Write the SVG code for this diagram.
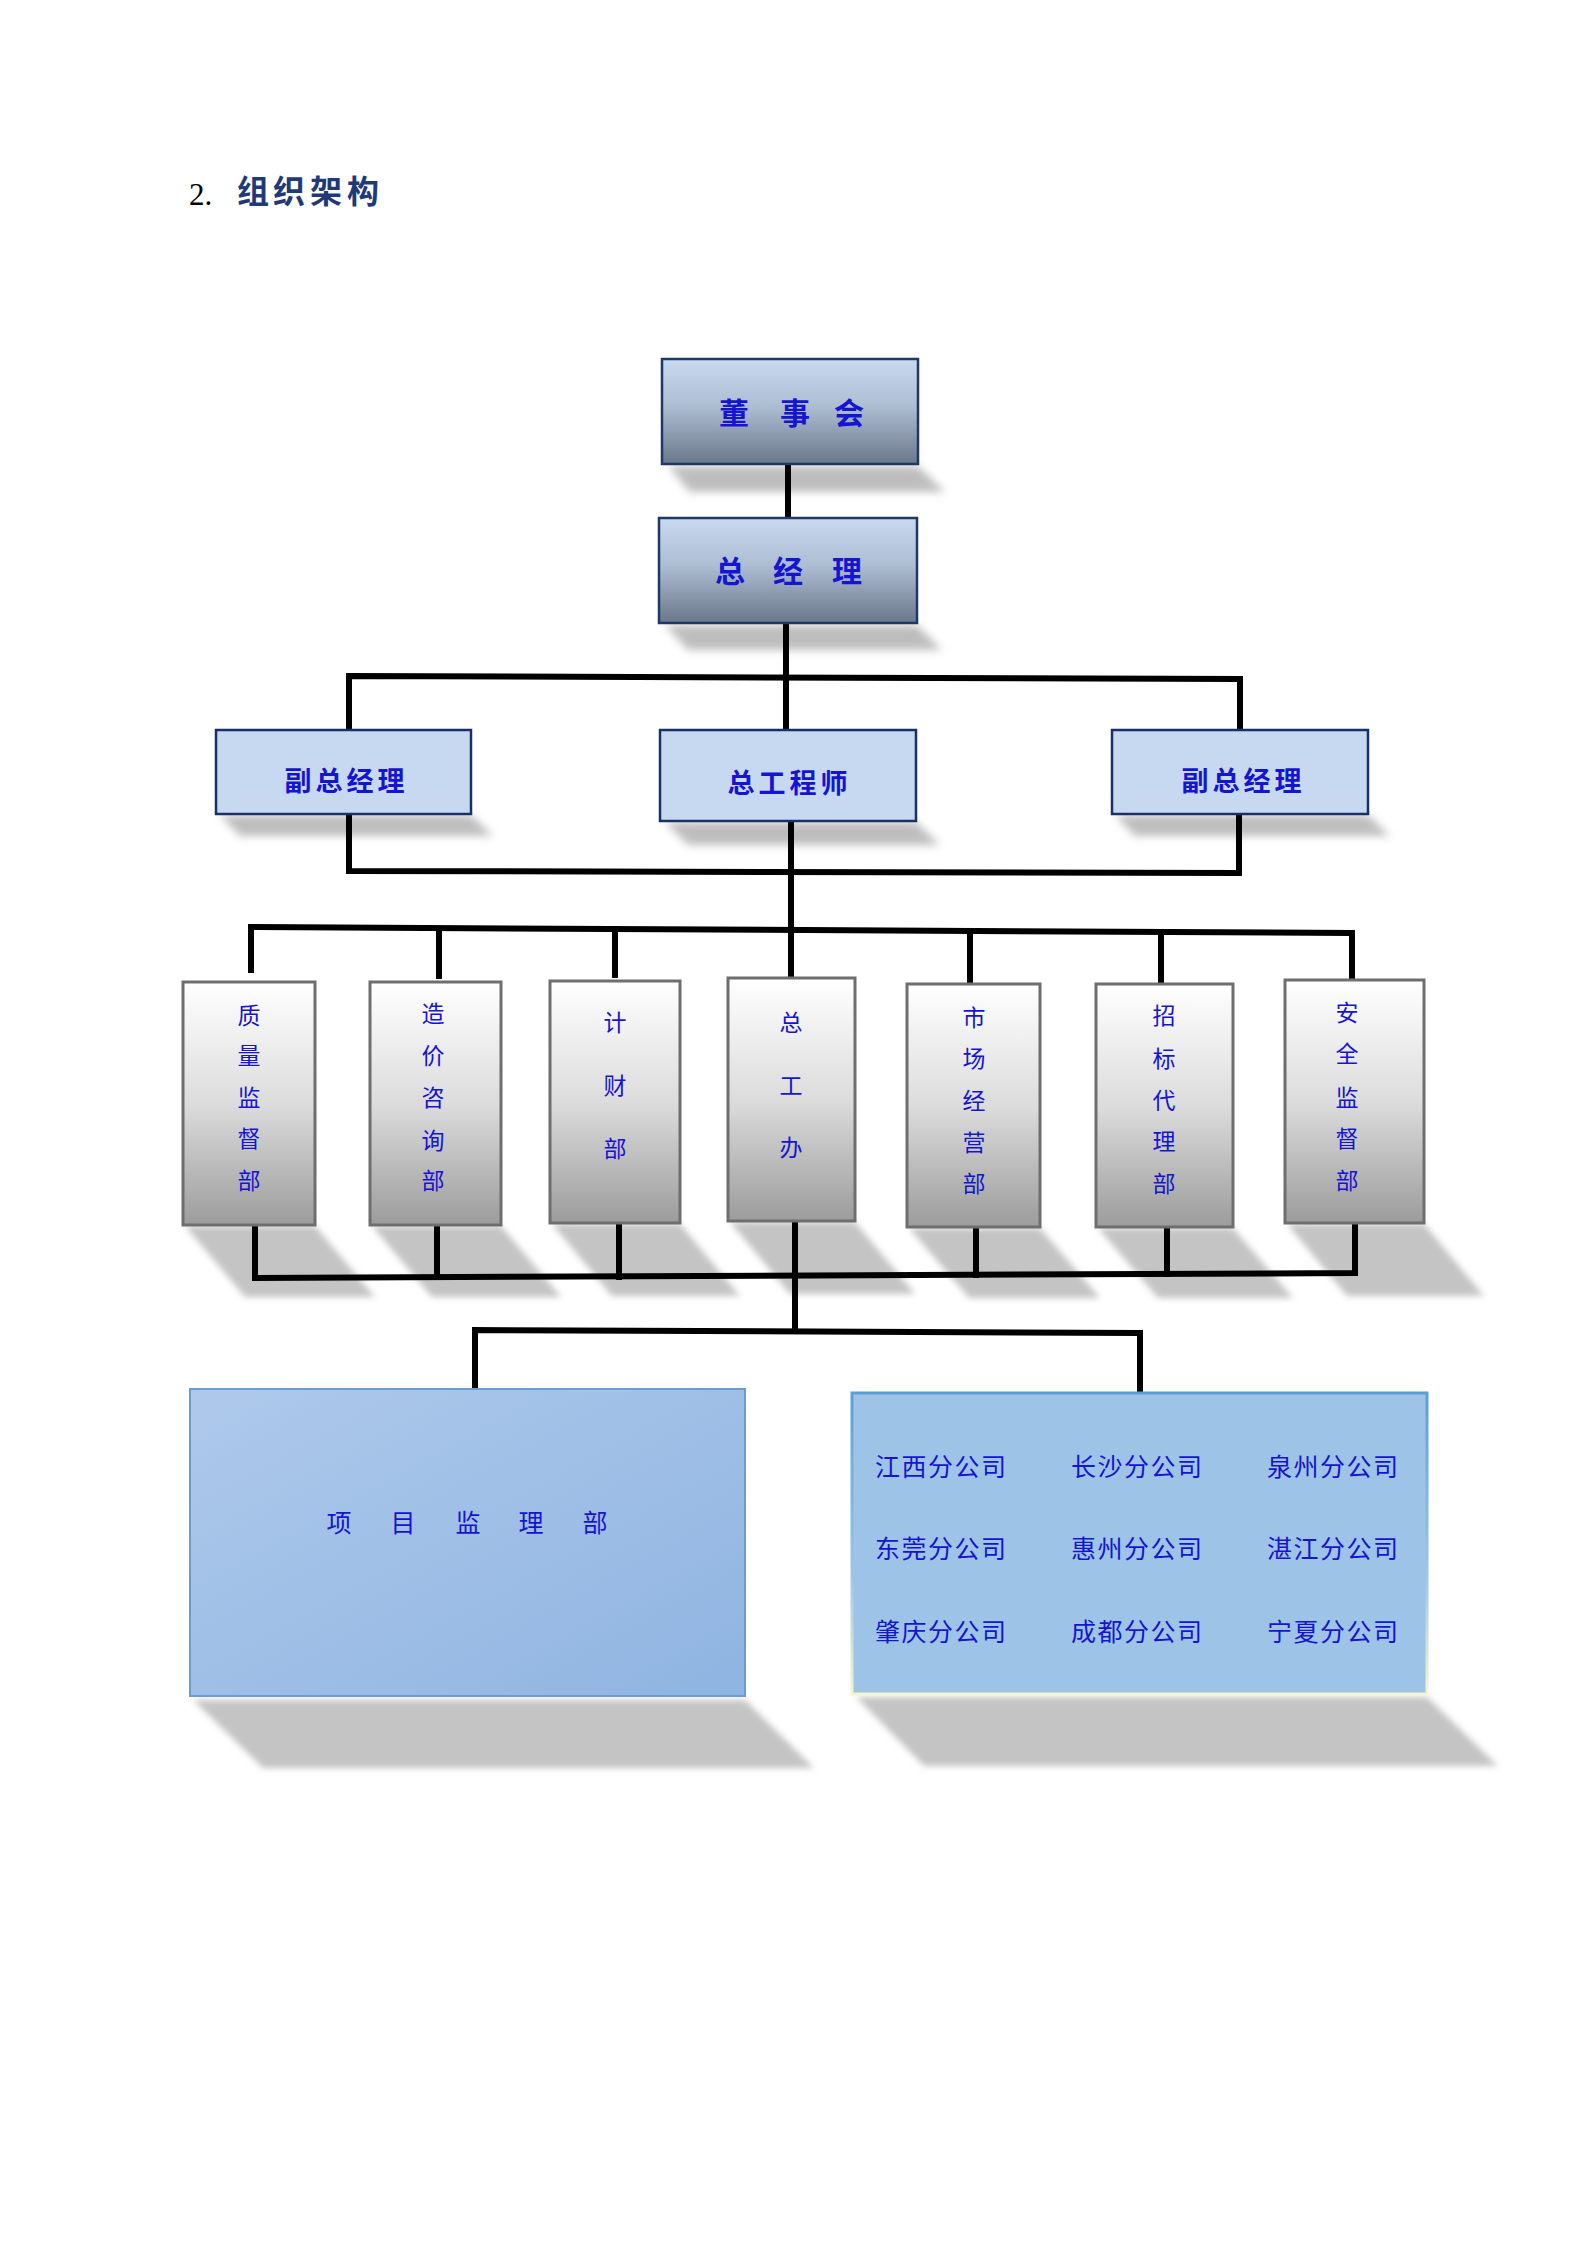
<svg xmlns="http://www.w3.org/2000/svg" width="1587" height="2245" viewBox="0 0 1587 2245">
<defs>
<linearGradient id="gTop" x1="0" y1="0" x2="0" y2="1">
<stop offset="0" stop-color="#c8daf1"/>
<stop offset="0.45" stop-color="#adbdd2"/>
<stop offset="1" stop-color="#6b778a"/>
</linearGradient>
<linearGradient id="gDept" x1="0" y1="0" x2="0" y2="1">
<stop offset="0" stop-color="#ffffff"/>
<stop offset="0.5" stop-color="#dcdcdc"/>
<stop offset="1" stop-color="#9c9c9c"/>
</linearGradient>
<linearGradient id="gProj" x1="0" y1="0" x2="1" y2="1">
<stop offset="0" stop-color="#aec9eb"/>
<stop offset="1" stop-color="#8fb4e1"/>
</linearGradient>
<linearGradient id="gBrStroke" x1="0" y1="0" x2="0" y2="1">
<stop offset="0" stop-color="#5b9fd6"/>
<stop offset="0.6" stop-color="#9cc6ea"/>
<stop offset="1" stop-color="#f3f5cf"/>
</linearGradient>
<filter id="blur" x="-20%" y="-50%" width="140%" height="200%">
<feGaussianBlur stdDeviation="4"/>
</filter>
<filter id="blur2" x="-20%" y="-50%" width="140%" height="200%">
<feGaussianBlur stdDeviation="3"/>
</filter>
</defs>
<style>
.cn{font-family:"Noto Sans CJK SC","Noto Sans CJK TC",sans-serif;fill:#1414d2;}
.top{font-size:30px;font-weight:bold;text-anchor:middle;}
.vp{font-size:27px;font-weight:bold;text-anchor:middle;}
.dept{font-size:23px;text-anchor:middle;}
.br{font-size:25px;letter-spacing:1.5px;}
.proj{font-size:25px;text-anchor:middle;}
.boxTop{fill:url(#gTop);stroke:#1f3864;stroke-width:2.5;}
.boxVp{fill:#c6d9f1;stroke:#17306a;stroke-width:2.5;}
.boxDept{fill:url(#gDept);stroke:#6e6e6e;stroke-width:3;}
.shadow{fill:#a8a8a8;opacity:0.75;filter:url(#blur);}
.dshadow{fill:#c4c4c4;filter:url(#blur2);}
.ln{fill:none;stroke:#000;stroke-width:6;stroke-linecap:square;stroke-linejoin:miter;}
</style>
<rect width="1587" height="2245" fill="#ffffff"/>

<!-- title -->
<g id="title">
<text x="189" y="205" font-family="Liberation Serif, serif" font-size="31" fill="#000">2.</text>
<text x="253 289 326 363" y="203" font-family="Noto Sans CJK SC, sans-serif" font-size="32" font-weight="bold" fill="#1f3a78" text-anchor="middle">组织架构</text>
</g>

<!-- shadows -->
<g id="shadows">
<polygon class="shadow" points="668,466 918,466 945,492 690,492"/>
<polygon class="shadow" points="665,625 917,625 942,650 688,650"/>
<polygon class="shadow" points="220,815 471,815 493,836 240,836"/>
<polygon class="shadow" points="665,822 916,822 940,845 688,845"/>
<polygon class="shadow" points="1115,815 1368,815 1390,836 1135,836"/>
<polygon class="dshadow" points="185,1226 315,1226 375,1297 245,1297"/>
<polygon class="dshadow" points="372,1226 501,1226 561,1297 432,1297"/>
<polygon class="dshadow" points="552,1224 680,1224 740,1296 612,1296"/>
<polygon class="dshadow" points="730,1222 855,1222 915,1294 790,1294"/>
<polygon class="dshadow" points="909,1228 1040,1228 1100,1298 969,1298"/>
<polygon class="dshadow" points="1098,1228 1233,1228 1293,1298 1158,1298"/>
<polygon class="dshadow" points="1287,1224 1424,1224 1484,1296 1347,1296"/>
<polygon class="dshadow" points="193,1700 745,1700 814,1768 263,1768"/>
<polygon class="dshadow" points="856,1697 1427,1697 1498,1766 924,1766"/>
</g>

<!-- connectors -->
<g id="connectors">
<line class="ln" x1="788" y1="466" x2="788" y2="516"/>
<line class="ln" x1="786" y1="625" x2="786" y2="728"/>
<polyline class="ln" points="349,728 349,676 1240,679 1240,728"/>
<polyline class="ln" points="349,815 349,871 1239,873 1239,815"/>
<line class="ln" x1="791" y1="823" x2="791" y2="975"/>
<polyline class="ln" points="251,970 251,927 1352,933 1352,978"/>
<line class="ln" x1="439" y1="929" x2="439" y2="976"/>
<line class="ln" x1="615" y1="930" x2="615" y2="975"/>
<line class="ln" x1="970" y1="932" x2="970" y2="980"/>
<line class="ln" x1="1161" y1="933" x2="1161" y2="980"/>
<polyline class="ln" points="255,1227 255,1278 1355,1273 1355,1225"/>
<line class="ln" x1="437" y1="1227" x2="437" y2="1277"/>
<line class="ln" x1="619" y1="1225" x2="619" y2="1277"/>
<line class="ln" x1="976" y1="1231" x2="976" y2="1275"/>
<line class="ln" x1="1167" y1="1229" x2="1167" y2="1274"/>
<line class="ln" x1="795" y1="1223" x2="795" y2="1329"/>
<polyline class="ln" points="475,1387 475,1330 1140,1333 1140,1392"/>
</g>

<!-- nodes -->
<g id="n-board">
<rect class="boxTop" x="662" y="359" width="256" height="105"/>
<text class="cn top" x="734 795 849" y="424">董事会</text>
</g>
<g id="n-gm">
<rect class="boxTop" x="659" y="518" width="258" height="105"/>
<text class="cn top" x="730 788 847" y="582">总经理</text>
</g>
<g id="n-vp-left">
<rect class="boxVp" x="216" y="730" width="255" height="84"/>
<text class="cn vp" x="298 329 360 391" y="791">副总经理</text>
</g>
<g id="n-ce">
<rect class="boxVp" x="660" y="730" width="256" height="91"/>
<text class="cn vp" x="741 772 803 834" y="793">总工程师</text>
</g>
<g id="n-vp-right">
<rect class="boxVp" x="1112" y="730" width="256" height="84"/>
<text class="cn vp" x="1195 1226 1257 1288" y="791">副总经理</text>
</g>

<g id="d-quality">
<rect class="boxDept" x="183" y="982" width="132" height="243"/>
<text class="cn dept" x="249" y="1024">质</text>
<text class="cn dept" x="249" y="1064">量</text>
<text class="cn dept" x="249" y="1106">监</text>
<text class="cn dept" x="249" y="1147">督</text>
<text class="cn dept" x="249" y="1189">部</text>
</g>
<g id="d-cost">
<rect class="boxDept" x="370" y="982" width="131" height="243"/>
<text class="cn dept" x="433" y="1022">造</text>
<text class="cn dept" x="433" y="1064">价</text>
<text class="cn dept" x="433" y="1106">咨</text>
<text class="cn dept" x="433" y="1149">询</text>
<text class="cn dept" x="433" y="1189">部</text>
</g>
<g id="d-finance">
<rect class="boxDept" x="550" y="981" width="130" height="242"/>
<text class="cn dept" x="615" y="1031">计</text>
<text class="cn dept" x="615" y="1094">财</text>
<text class="cn dept" x="615" y="1157">部</text>
</g>
<g id="d-office">
<rect class="boxDept" x="728" y="978" width="127" height="243"/>
<text class="cn dept" x="791" y="1031">总</text>
<text class="cn dept" x="791" y="1094">工</text>
<text class="cn dept" x="791" y="1156">办</text>
</g>
<g id="d-market">
<rect class="boxDept" x="907" y="984" width="133" height="243"/>
<text class="cn dept" x="974" y="1026">市</text>
<text class="cn dept" x="974" y="1067">场</text>
<text class="cn dept" x="974" y="1109">经</text>
<text class="cn dept" x="974" y="1151">营</text>
<text class="cn dept" x="974" y="1192">部</text>
</g>
<g id="d-bid">
<rect class="boxDept" x="1096" y="984" width="137" height="243"/>
<text class="cn dept" x="1164" y="1024">招</text>
<text class="cn dept" x="1164" y="1067">标</text>
<text class="cn dept" x="1164" y="1109">代</text>
<text class="cn dept" x="1164" y="1150">理</text>
<text class="cn dept" x="1164" y="1192">部</text>
</g>
<g id="d-safety">
<rect class="boxDept" x="1285" y="980" width="139" height="243"/>
<text class="cn dept" x="1347" y="1021">安</text>
<text class="cn dept" x="1347" y="1062">全</text>
<text class="cn dept" x="1347" y="1106">监</text>
<text class="cn dept" x="1347" y="1147">督</text>
<text class="cn dept" x="1347" y="1189">部</text>
</g>

<g id="n-project">
<rect x="190" y="1389" width="555" height="307" fill="url(#gProj)" stroke="#6a9bd1" stroke-width="2"/>
<text class="cn proj" x="339 403 468 531 595" y="1532">项目监理部</text>
</g>
<g id="n-branches">
<rect x="852" y="1393" width="575" height="301" fill="#9dc3e6" stroke="url(#gBrStroke)" stroke-width="3"/>
<text class="cn br" x="875" y="1476">江西分公司</text>
<text class="cn br" x="1071" y="1476">长沙分公司</text>
<text class="cn br" x="1267" y="1476">泉州分公司</text>
<text class="cn br" x="875" y="1558">东莞分公司</text>
<text class="cn br" x="1071" y="1558">惠州分公司</text>
<text class="cn br" x="1267" y="1558">湛江分公司</text>
<text class="cn br" x="875" y="1641">肇庆分公司</text>
<text class="cn br" x="1071" y="1641">成都分公司</text>
<text class="cn br" x="1267" y="1641">宁夏分公司</text>
</g>
</svg>
